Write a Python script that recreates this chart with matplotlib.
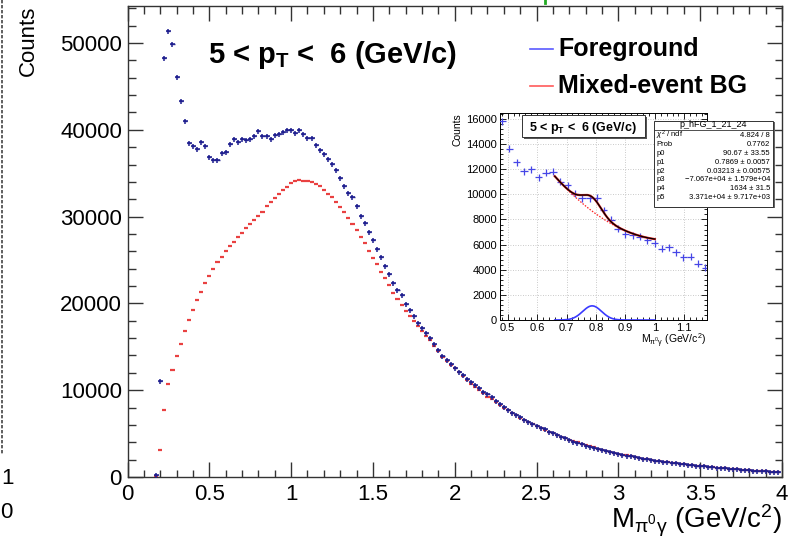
import numpy as np
import matplotlib
matplotlib.use("Agg")
import matplotlib.pyplot as plt
from matplotlib.lines import Line2D
from matplotlib.patches import Rectangle
from matplotlib.ticker import MultipleLocator, FuncFormatter

plt.rcParams['font.family'] = ['Liberation Sans', 'DejaVu Sans']
plt.rcParams['mathtext.fontset'] = 'custom'
plt.rcParams['mathtext.rm'] = 'Liberation Sans'
plt.rcParams['mathtext.it'] = 'Liberation Sans:italic'
plt.rcParams['mathtext.bf'] = 'Liberation Sans:bold'

# ---------------- data ----------------
bin_first = 0.175
bin_width = 0.025

# Foreground (same-event) pi0-gamma invariant mass
fg_counts = [
    200, 11060, 48270, 51350, 49920, 46050, 43320, 40980, 38510, 38170,
    37790, 38630, 38170, 36900, 36550, 36550, 37360, 37480, 38330, 38910,
    38630, 38970, 38860, 38970, 39290, 39830, 39320, 39320, 38970, 39370,
    39550, 39800, 39940,
    39980, 39620, 40020, 39560, 39060, 39060, 38260, 37690, 37200, 36600,
    36060, 35410, 34500, 33540, 32730, 32220, 31190, 30100, 29300, 28230,
    27340, 26230, 25350, 24310, 23420, 22350, 21580, 20970, 19970, 19240,
    18490, 17760, 17200, 16560, 15980, 15290, 14600, 13940, 13440, 12980,
    12520, 12060, 11750, 11290, 10940, 10600, 10220, 9830, 9530, 9220,
    8760, 8450, 8060, 7750, 7370, 7140, 6910, 6600, 6370, 6140,
    5880, 5610, 5500, 5220, 5070, 4840, 4640, 4460, 4230, 4070,
    3920, 3770, 3610, 3490, 3340, 3230, 3110, 2960, 2850, 2730,
    2630, 2560, 2460, 2370, 2290, 2200, 2120, 2060, 1970, 1890,
    1830, 1770, 1690, 1640, 1590, 1520, 1470, 1420, 1350, 1320,
    1270, 1220, 1160, 1130, 1090, 1030, 1000, 960, 930, 880,
    840, 810, 760, 740, 700, 680, 640, 610, 570, 550,
]

# Mixed-event background
bg_counts = [
    150, 3100, 7750, 10680, 12290, 13900, 15360, 16820, 18090, 19270,
    20430, 21350, 22350, 23190, 24000, 24730, 25350, 26040, 26580, 27110,
    27610, 28150, 28650, 29110, 29610, 30070, 30530, 31220, 31680, 32180,
    32640, 33080, 33450,
    33830, 34070, 34180, 34140, 34070, 33990, 33790, 33490, 33100, 32640,
    32220, 31720, 31140, 30530, 29840, 29110, 28460, 27680, 26960, 26070,
    25270, 24500, 23650, 22960, 22120, 21230, 20470, 19820, 19170, 18590,
    17970, 17340, 16860, 16290, 15770, 15130, 14480, 13850, 13370, 12930,
    12500, 12040, 11600, 11170, 10760, 10370, 9990, 9620, 9270, 8930,
    8600, 8280, 7970, 7670, 7380, 7100, 6830, 6570, 6320, 6080,
    5850, 5630, 5420, 5220, 5020, 4830, 4650, 4470, 4300, 4140,
    3980, 3830, 3680, 3540, 3400, 3270, 3140, 3020, 2900, 2790,
    2680, 2580, 2480, 2390, 2300, 2210, 2130, 2050, 1970, 1900,
    1830, 1760, 1700, 1640, 1580, 1520, 1460, 1410, 1360, 1310,
    1260, 1210, 1170, 1120, 1080, 1040, 1000, 960, 920, 880,
    850, 810, 780, 740, 710, 680, 650, 620, 590, 560,
]

# Zoomed spectrum around the omega region
inset_mass = [
    0.482, 0.506, 0.531, 0.556, 0.580, 0.605, 0.630, 0.654, 0.679, 0.704,
    0.729, 0.753, 0.778, 0.803, 0.826, 0.851, 0.875, 0.900, 0.925, 0.949,
    0.974, 0.999, 1.023, 1.048, 1.072, 1.097, 1.122, 1.147, 1.171,
]
inset_counts = [
    15815, 13635, 12545, 11830, 12015, 11375, 11720, 11800, 11000, 10740,
    10050, 9675, 9675, 9730, 8745, 7975, 7255, 6830, 6725, 6645,
    6350, 6115, 5690, 5795, 5395, 4995, 5050, 4490, 4145,
]
inset_err = 280

# Fit results (gaus + quadratic background)
p0, p1, p2 = 90.67, 0.7869, 0.03213
p3, p5 = -7.067e+04, 3.371e+04
bg_const = 43400
fit_lo, fit_hi = 0.66, 1.0

stats_rows = [
    (r"$\chi^2$ / ndf", "4.824 / 8"),
    ("Prob", "0.7762"),
    ("p0", "90.67 \u00b1 33.55"),
    ("p1", "0.7869 \u00b1 0.0057"),
    ("p2", "0.03213 \u00b1 0.00575"),
    ("p3", "\u22127.067e+04 \u00b1 1.579e+04"),
    ("p4", "1634 \u00b1 31.5"),
    ("p5", "3.371e+04 \u00b1 9.717e+03"),
]

# ---------------- figure ----------------
W, H = 797, 542
fig = plt.figure(figsize=(W / 100, H / 100), dpi=100)
fig.patch.set_facecolor('white')


def fx(px):
    return px / W


def fy(py):
    return 1 - py / H


mass = bin_first + bin_width * np.arange(len(fg_counts))
mass_label = r'M$_{\mathrm{\pi^{0}\gamma}}$ (GeV/c$^{2}$)'
gfmt = FuncFormatter(lambda v, p: f"{v:g}")

ax = fig.add_axes([fx(127.5), fy(477), (782 - 127.5) / W, (477 - 6) / H])
ax.set_xlim(0, 4)
ax.set_ylim(0, 54260)

navy = '#1f1f8f'
red = '#e62020'
ax.errorbar(mass, bg_counts, xerr=bin_width / 2, fmt='none', ecolor=red,
            elinewidth=1.6, alpha=0.85, zorder=3)
ax.errorbar(mass, fg_counts, xerr=bin_width / 2, fmt='none', ecolor=navy,
            elinewidth=1.0, alpha=0.9, zorder=4)
ax.plot(mass, fg_counts, ls='none', marker='+', ms=3.6, mew=1.1, color=navy,
        zorder=5)

ax.xaxis.set_major_locator(MultipleLocator(0.5))
ax.xaxis.set_minor_locator(MultipleLocator(0.1))
ax.yaxis.set_major_locator(MultipleLocator(10000))
ax.yaxis.set_minor_locator(MultipleLocator(2000))
ax.tick_params(which='both', direction='in', top=True, right=True,
               labelsize=16, width=1.0, color='#333333')
ax.tick_params(which='major', length=10.8)
ax.tick_params(which='minor', length=5.4)
ax.tick_params(axis='y', pad=4)
ax.tick_params(axis='x', pad=5)
ax.xaxis.set_major_formatter(gfmt)
for s in ax.spines.values():
    s.set_linewidth(1.0)
    s.set_color('#333333')

fig.text(fx(28), fy(6), 'Counts', rotation=90, ha='center', va='top',
         fontsize=16)
fig.text(fx(782), fy(521), mass_label, ha='right', va='center', fontsize=20)

# title and legend
fig.text(fx(208), fy(63), r'5 < p$_{\mathbf{T}}$ <  6 (GeV/c)',
         ha='left', va='baseline', fontsize=21, fontweight='bold')
for yy, col, lab in [(49, '#5a5aff', 'Foreground'),
                     (86, '#ff5a5a', 'Mixed-event BG')]:
    fig.add_artist(Line2D([fx(530), fx(553)], [fy(yy), fy(yy)], color=col,
                          lw=1.2))
    fig.text(fx(558), fy(yy), lab, ha='left', va='center', fontsize=18,
             fontweight='bold')

# edge of the neighbouring pad
fig.add_artist(Line2D([fx(2), fx(2)], [fy(0), fy(455)], color='#444444',
                      lw=1.2, ls=(0, (2, 1))))
fig.text(fx(1), fy(478), '1', ha='left', va='center', fontsize=16)
fig.text(fx(0), fy(512), '0', ha='left', va='center', fontsize=16)
fig.add_artist(Line2D([fx(545), fx(545)], [fy(0), fy(3)], color='#22aa22',
                      lw=2))

# ---------------- inset pad ----------------
fig.add_artist(Rectangle((fx(446), fy(350)), (712 - 446) / W,
                         (350 - 104) / H, facecolor='white',
                         edgecolor='none', zorder=6))
ai = fig.add_axes([fx(500), fy(320), (706.7 - 500) / W, (320 - 113.3) / H])
ai.set_zorder(7)
ai.set_xlim(0.474, 1.176)
ai.set_ylim(0, 16450)
ai.xaxis.set_major_locator(MultipleLocator(0.1))
ai.xaxis.set_minor_locator(MultipleLocator(0.02))
ai.yaxis.set_major_locator(MultipleLocator(2000))
ai.yaxis.set_minor_locator(MultipleLocator(400))
ai.grid(True, which='major', color='#b8b8b8', lw=0.6, ls=(0, (1, 2)))
ai.tick_params(which='both', direction='in', top=True, right=True,
               labelsize=8, width=0.6, pad=2)
ai.tick_params(which='major', length=4.3)
ai.tick_params(which='minor', length=2.2)
ai.xaxis.set_major_formatter(gfmt)
for s in ai.spines.values():
    s.set_linewidth(0.7)

ai.errorbar(inset_mass, inset_counts, xerr=bin_width / 2, yerr=inset_err,
            fmt='none', ecolor='#4646e6', elinewidth=0.9, zorder=3)

xf = np.linspace(fit_lo, fit_hi, 300)
gaus = p0 / (np.sqrt(2 * np.pi) * p2) * np.exp(-0.5 * ((xf - p1) / p2) ** 2)
bgf = bg_const + p3 * xf + p5 * xf ** 2
ai.plot(xf, gaus + bgf, color='#e02020', lw=1.6, zorder=4)
ai.plot(xf, gaus + bgf, color='black', lw=0.9, zorder=5)
ai.plot(xf, bgf, color='#ff2020', lw=0.9, ls=(0, (1.2, 1.2)), zorder=4)
ai.plot(xf, gaus, color='#3a3aff', lw=1.2, zorder=4)

fig.text(fx(458), fy(113.5), 'Counts', rotation=90, ha='center', va='top',
         fontsize=7.5, zorder=8)
fig.text(fx(706.7), fy(341), mass_label, ha='right', va='center',
         fontsize=7.5, zorder=8)

# inset title box with shadow
tb = (521.7, 115, 645, 137.3)
fig.add_artist(Rectangle((fx(tb[0] + 2), fy(tb[3] + 2)),
                         (tb[2] - tb[0]) / W, (tb[3] - tb[1]) / H,
                         facecolor='#555555', edgecolor='none', zorder=9))
fig.add_artist(Rectangle((fx(tb[0]), fy(tb[3])), (tb[2] - tb[0]) / W,
                         (tb[3] - tb[1]) / H, facecolor='white',
                         edgecolor='#333333', lw=0.7, zorder=10))
fig.text(fx((tb[0] + tb[2]) / 2), fy(127.5),
         r'5 < p$_{\mathbf{T}}$ <  6 (GeV/c)', ha='center', va='center',
         fontsize=9, fontweight='bold', zorder=11)

# fit statistics box
sb = (654, 120.5, 773, 206.5)
fig.add_artist(Rectangle((fx(sb[0] + 1.5), fy(sb[3] + 1.5)),
                         (sb[2] - sb[0]) / W, (sb[3] - sb[1]) / H,
                         facecolor='#666666', edgecolor='none', zorder=9))
fig.add_artist(Rectangle((fx(sb[0]), fy(sb[3])), (sb[2] - sb[0]) / W,
                         (sb[3] - sb[1]) / H, facecolor='white',
                         edgecolor='#333333', lw=0.7, zorder=10))
fig.text(fx((sb[0] + sb[2]) / 2), fy(124.8), 'p_hFG_1_21_24', ha='center',
         va='center', fontsize=6.5, zorder=11)
fig.add_artist(Line2D([fx(sb[0]), fx(sb[2])], [fy(129.5), fy(129.5)],
                      color='#333333', lw=0.6, zorder=11))
row_y = [135.5, 144.5, 153.5, 162.5, 171, 180, 188.7, 197.3]
for (lab, val), yy in zip(stats_rows, row_y):
    fig.text(fx(sb[0] + 2.5), fy(yy), lab, ha='left', va='center',
             fontsize=5.5, zorder=11)
    fig.text(fx(sb[2] - 3), fy(yy), val, ha='right', va='center',
             fontsize=5.5, zorder=11)

fig.savefig('out.png', dpi=100)
